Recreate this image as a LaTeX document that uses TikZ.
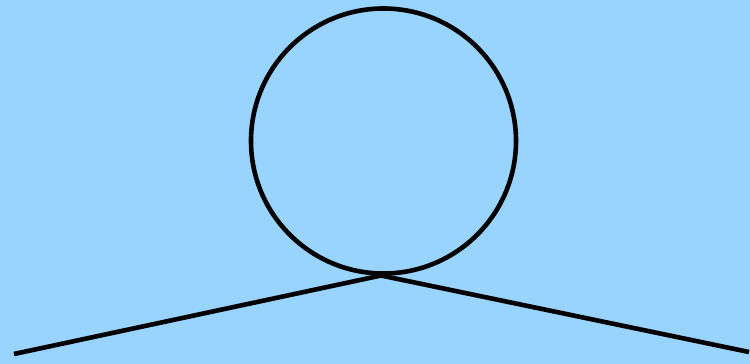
\documentclass[tikz,border=0pt]{standalone}
\definecolor{bgblue}{RGB}{153,212,255}
\begin{document}
\begin{tikzpicture}[x=1pt,y=-1pt,
  stroke/.style={line width=4.6pt, black},
  ring/.style={circle, draw, line width=4.6pt, minimum size=265pt, inner sep=0pt, outer sep=0pt}]
\fill[bgblue] (0,0) rectangle (750,364);
\useasboundingbox (0,0) rectangle (750,364);
\node[ring] (loop) at (383.5,141) {};
\coordinate (joint) at (381,275.5);
\coordinate (left) at (14,354);
\coordinate (right) at (749,352);
\draw[stroke] (left) -- (joint) -- (right);
\end{tikzpicture}
\end{document}
